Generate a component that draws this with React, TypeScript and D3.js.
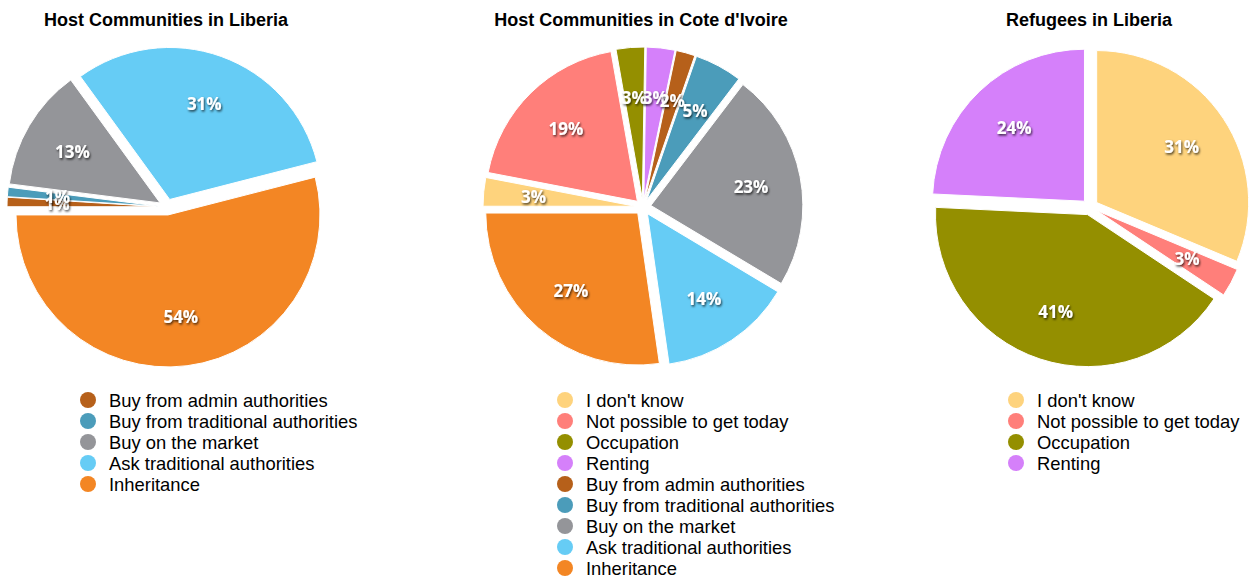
import React from "react";
import * as d3 from "d3";

// ---- Data ----
const liberiaHostCategories = [
  "Buy from admin authorities",
  "Buy from traditional authorities",
  "Buy on the market",
  "Ask traditional authorities",
  "Inheritance",
];
const liberiaHostValues = [1, 1, 13, 31, 54];

const coteHostCategories = [
  "I don't know",
  "Not possible to get today",
  "Occupation",
  "Renting",
  "Buy from admin authorities",
  "Buy from traditional authorities",
  "Buy on the market",
  "Ask traditional authorities",
  "Inheritance",
];
const coteHostValues = [3, 19, 3, 3, 2, 5, 23, 14, 27];

const refugeeCategories = [
  "I don't know",
  "Not possible to get today",
  "Occupation",
  "Renting",
];
const refugeeValues = [31, 3, 41, 24];

const chartTitles = [
  "Host Communities in Liberia",
  "Host Communities in Cote d'Ivoire",
  "Refugees in Liberia",
];

const categoryColors: Record<string, string> = {
  "I don't know": "#FED37D",
  "Not possible to get today": "#FF7F7A",
  Occupation: "#948F00",
  Renting: "#D580FA",
  "Buy from admin authorities": "#B6601A",
  "Buy from traditional authorities": "#4B9CBA",
  "Buy on the market": "#949599",
  "Ask traditional authorities": "#66CCF5",
  Inheritance: "#F38624",
};

// ---- Layout ----
const W = 1253;
const H = 578;
const R = 152;
const EXPLODE = 8;
const LABEL_R = 102;
const CY = 207;

const charts = [
  { title: chartTitles[0], cats: liberiaHostCategories, vals: liberiaHostValues, cx: 167, titleX: 166, legendX: 88, start: -Math.PI / 2 },
  { title: chartTitles[1], cats: coteHostCategories, vals: coteHostValues, cx: 643, titleX: 641, legendX: 565, start: -Math.PI / 2 },
  { title: chartTitles[2], cats: refugeeCategories, vals: refugeeValues, cx: 1090, titleX: 1089, legendX: 1016, start: 0 },
];

const arcGen = d3.arc<d3.PieArcDatum<number>>().innerRadius(0).outerRadius(R);

function PieChart({ c }: { c: (typeof charts)[number] }) {
  const pie = d3
    .pie<number>()
    .sort(null)
    .value((d) => d)
    .startAngle(c.start)
    .endAngle(c.start + 2 * Math.PI);
  const arcs = pie(c.vals);
  const legendY = d3
    .scalePoint<number>()
    .domain(d3.range(c.cats.length))
    .range([400, 400 + 21 * (c.cats.length - 1)]);
  return (
    <g>
      <text
        x={c.titleX}
        y={26}
        textAnchor="middle"
        fontFamily="Liberation Sans, Arial, Helvetica, sans-serif"
        fontWeight="bold"
        fontSize={18}
        fill="#000"
      >
        {c.title}
      </text>
      <g transform={`translate(${c.cx},${CY})`}>
        {arcs.map((a, i) => {
          const mid = (a.startAngle + a.endAngle) / 2;
          const dx = EXPLODE * Math.sin(mid);
          const dy = -EXPLODE * Math.cos(mid);
          return (
            <path
              key={i}
              d={arcGen(a) || ""}
              transform={`translate(${dx},${dy})`}
              fill={categoryColors[c.cats[i]]}
              stroke="#fff"
              strokeWidth={1}
            />
          );
        })}
        {arcs.map((a, i) => {
          const mid = (a.startAngle + a.endAngle) / 2;
          const rr = EXPLODE + LABEL_R;
          const x = rr * Math.sin(mid);
          const y = -rr * Math.cos(mid);
          return (
            <text
              key={"l" + i}
              x={x}
              y={y}
              textAnchor="middle"
              dominantBaseline="central"
              fontFamily="Open Sans, sans-serif"
              fontWeight={700}
              fontSize={17}
              fill="#fff"
              filter="url(#lblShadow)"
            >
              {`${c.vals[i]}%`}
            </text>
          );
        })}
      </g>
      <g>
        {c.cats.map((cat, i) => (
          <g key={"lg" + i} transform={`translate(${c.legendX},${legendY(i)})`}>
            <circle r={8} fill={categoryColors[cat]} />
            <text
              x={21}
              y={0}
              dominantBaseline="central"
              fontFamily="Liberation Sans, Arial, Helvetica, sans-serif"
              fontSize={18.4}
              fill="#000"
            >
              {cat}
            </text>
          </g>
        ))}
      </g>
    </g>
  );
}

export default function App() {
  return (
    <svg
      width={W}
      height={H}
      viewBox={`0 0 ${W} ${H}`}
      style={{ position: "absolute", left: 0, top: 0, background: "#fff" }}
    >
      <defs>
        <filter id="lblShadow" x="-30%" y="-30%" width="160%" height="160%">
          <feDropShadow dx={1} dy={1.5} stdDeviation={1.3} floodColor="#000" floodOpacity={0.75} />
        </filter>
      </defs>
      <rect width={W} height={H} fill="#fff" />
      {charts.map((c, i) => (
        <PieChart key={i} c={c} />
      ))}
    </svg>
  );
}
